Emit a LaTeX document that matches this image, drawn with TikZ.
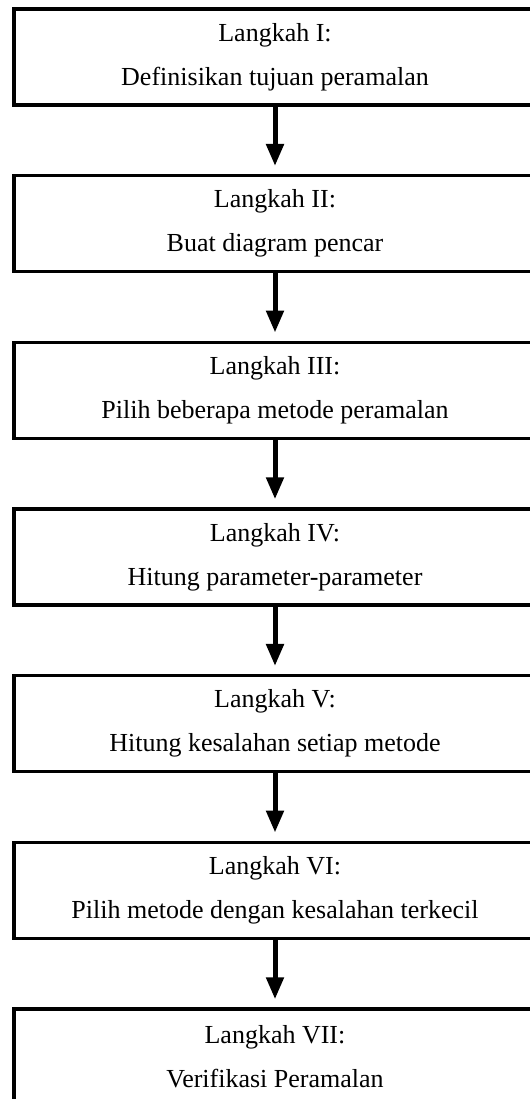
\documentclass[tikz,border=0pt]{standalone}
\usepackage{fontspec}
\setmainfont{Liberation Serif}
\usetikzlibrary{arrows.meta}

\tikzset{
  stepbox/.style={draw=black, line width=3.5bp, fill=white,
    minimum width=522bp, minimum height=96bp, inner sep=0pt,
    align=center, font={\fontsize{26bp}{44bp}\selectfont}},
  flow/.style={line width=5bp, -{Triangle[length=22bp,width=17bp]},
    shorten >=8bp}
}

\begin{document}
\begin{tikzpicture}[x=1bp,y=-1bp]
  \useasboundingbox (0,0) rectangle (530,1099);
  \clip (0,0) rectangle (530,1099);

  \node[stepbox] (s1) at (275,57)     {Langkah I:\\Definisikan tujuan peramalan};
  \node[stepbox] (s2) at (275,223.7)  {Langkah II:\\Buat diagram pencar};
  \node[stepbox] (s3) at (275,390.3)  {Langkah III:\\Pilih beberapa metode peramalan};
  \node[stepbox] (s4) at (275,557)    {Langkah IV:\\Hitung parameter-parameter};
  \node[stepbox] (s5) at (275,723.7)  {Langkah V:\\Hitung kesalahan setiap metode};
  \node[stepbox] (s6) at (275,890.3)  {Langkah VI:\\Pilih metode dengan kesalahan terkecil};
  \node[stepbox] (s7) at (275,1057)   {Langkah VII:\\Verifikasi Peramalan};

  \foreach \a/\b in {s1/s2, s2/s3, s3/s4, s4/s5, s5/s6, s6/s7}
    \draw[flow] (\a.south) -- (\b.north);
\end{tikzpicture}
\end{document}
